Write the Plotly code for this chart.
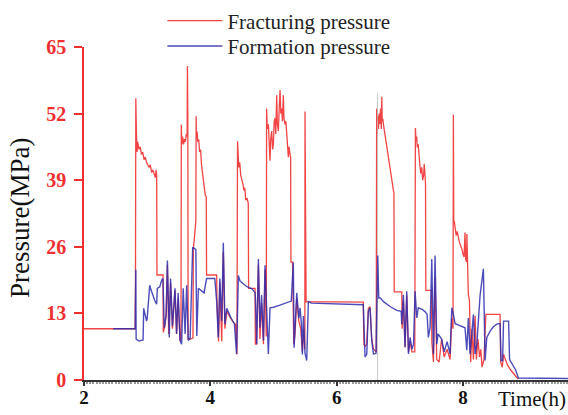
import plotly.graph_objects as go

# Fracturing (treating) pressure record, MPa vs hours
frac_time = [
    2.00, 2.81, 2.815, 2.82, 2.825, 2.83, 2.84, 2.85, 2.87, 2.89, 2.91, 2.93, 2.95, 2.97, 2.99,
    3.01, 3.03, 3.05, 3.07, 3.09, 3.11, 3.13, 3.14, 3.15, 3.155, 3.25, 3.255, 3.28, 3.30, 3.32,
    3.34, 3.37, 3.40, 3.44, 3.465, 3.49, 3.52, 3.535, 3.54, 3.548, 3.56, 3.575, 3.59, 3.605, 3.62,
    3.632, 3.637, 3.643, 3.648, 3.68, 3.725, 3.73, 3.745, 3.76, 3.77, 3.775, 3.78, 3.79, 3.80, 3.815,
    3.83, 3.845, 3.86, 3.875, 3.89, 3.905, 3.92, 3.935, 3.94, 4.10, 4.105, 4.13, 4.15, 4.18, 4.205,
    4.23, 4.26, 4.30, 4.35, 4.40, 4.42, 4.43, 4.44, 4.45, 4.465, 4.48, 4.50, 4.515, 4.53, 4.545,
    4.56, 4.58, 4.60, 4.605, 4.707, 4.712, 4.73, 4.76, 4.785, 4.81, 4.84, 4.865, 4.885, 4.89, 4.90,
    4.918, 4.93, 4.944, 4.955, 4.97, 4.985, 4.997, 5.01, 5.023, 5.035, 5.05, 5.06, 5.076, 5.09, 5.103,
    5.115, 5.13, 5.14, 5.155, 5.165, 5.18, 5.195, 5.21, 5.22, 5.234, 5.245, 5.26, 5.27, 5.275, 5.30,
    5.32, 5.34, 5.367, 5.40, 5.43, 5.456, 5.48, 5.495, 5.498, 5.502, 5.506, 5.51, 5.515, 6.42, 6.43,
    6.448, 6.475, 6.50, 6.527, 6.554, 6.58, 6.625, 6.632, 6.64, 6.65, 6.66, 6.67, 6.68, 6.695, 6.705,
    6.713, 6.72, 6.73, 6.74, 6.755, 6.77, 6.79, 6.805, 6.82, 6.835, 6.844, 6.86, 6.875, 6.89, 6.897,
    6.905, 6.91, 7.03, 7.035, 7.055, 7.081, 7.108, 7.135, 7.161, 7.19, 7.235, 7.245, 7.255, 7.265, 7.275,
    7.29, 7.30, 7.315, 7.33, 7.345, 7.36, 7.375, 7.385, 7.395, 7.405, 7.41, 7.50, 7.505, 7.53, 7.556,
    7.583, 7.62, 7.66, 7.70, 7.746, 7.794, 7.82, 7.84, 7.846, 7.852, 7.86, 7.873, 7.89, 7.905, 7.925,
    7.94, 7.96, 7.98, 8.00, 8.015, 8.03, 8.04, 8.055, 8.06, 8.07, 8.083, 8.10, 8.12, 8.14, 8.163,
    8.19, 8.21, 8.235, 8.26, 8.28, 8.30, 8.33, 8.36, 8.585, 8.595, 8.62, 8.64, 8.70, 8.75, 8.85,
    8.875,
]
frac_pressure = [
    10.0, 10.0, 20.0, 55.0, 45.0, 48.0, 44.5, 46.5, 45.0, 45.5, 44.0, 44.5, 43.0, 43.5, 42.5,
    42.0, 41.5, 42.0, 40.5, 41.0, 40.0, 39.5, 41.0, 40.0, 20.5, 20.5, 9.3, 10.5, 13.0, 22.5,
    9.0, 19.0, 10.0, 17.5, 9.0, 16.0, 7.7, 8.0, 49.8, 46.0, 47.5, 46.0, 47.0, 46.5, 48.0,
    47.5, 61.3, 52.0, 8.0, 8.0, 8.2, 25.5, 27.5, 30.5, 31.0, 51.5, 47.0, 48.5, 46.5, 47.0,
    44.5, 45.0, 42.0, 40.5, 40.0, 37.5, 36.0, 35.8, 20.5, 20.5, 15.0, 7.5, 19.0, 7.5, 25.0,
    10.0, 13.5, 12.5, 11.5, 10.8, 5.0, 46.6, 43.0, 41.5, 42.5, 40.0, 39.0, 38.3, 37.0, 37.5,
    35.1, 35.5, 34.5, 17.9, 17.9, 7.0, 7.0, 22.5, 8.0, 15.0, 7.0, 21.5, 8.5, 53.0, 49.0,
    49.9, 46.0, 42.8, 47.0, 48.6, 45.0, 46.0, 50.5, 51.1, 48.0, 55.6, 50.0, 48.6, 53.0, 56.6,
    52.0, 53.0, 50.5, 55.6, 51.0, 49.9, 50.5, 48.6, 46.0, 43.5, 45.5, 44.1, 43.5, 23.0, 23.0,
    7.0, 9.0, 16.0, 11.5, 10.0, 5.5, 10.0, 6.0, 52.4, 25.0, 35.0, 23.0, 15.3, 15.2, 7.0,
    6.5, 7.0, 14.0, 14.3, 8.0, 6.0, 5.5, 53.0, 48.0, 51.5, 49.0, 52.0, 50.0, 53.0, 49.0,
    55.3, 50.5, 51.0, 49.8, 48.5, 47.5, 45.4, 44.5, 42.8, 42.0, 40.9, 39.8, 39.0, 37.5, 37.0,
    36.5, 17.2, 17.2, 10.0, 15.5, 6.4, 16.5, 5.5, 7.5, 5.5, 5.5, 49.2, 46.6, 47.5, 45.4,
    46.0, 43.5, 42.0, 40.3, 41.5, 39.0, 40.0, 42.2, 39.6, 38.3, 17.5, 17.5, 7.5, 3.5, 20.0,
    4.0, 3.5, 8.0, 4.5, 6.0, 4.0, 12.0, 10.0, 51.8, 30.7, 31.0, 29.5, 28.2, 29.0, 27.5,
    27.0, 26.2, 25.6, 24.5, 24.0, 28.8, 23.6, 23.0, 28.5, 23.0, 16.7, 15.5, 3.5, 10.0, 4.0,
    12.5, 4.0, 8.0, 4.5, 6.0, 2.5, 4.0, 12.8, 12.8, 3.5, 2.5, 5.0, 3.0, 2.0, 0.5,
    0.2,
]

# Formation pressure record, MPa vs hours
form_time = [
    2.46, 2.81, 2.82, 2.825, 2.87, 2.935, 2.945, 2.97, 2.99, 3.00, 3.04, 3.06, 3.09, 3.12, 3.15,
    3.16, 3.20, 3.23, 3.25, 3.27, 3.30, 3.32, 3.35, 3.37, 3.40, 3.44, 3.465, 3.49, 3.52, 3.545,
    3.57, 3.60, 3.625, 3.65, 3.68, 3.72, 3.77, 3.785, 3.81, 3.85, 3.90, 3.94, 4.07, 4.10, 4.125,
    4.15, 4.18, 4.205, 4.23, 4.26, 4.29, 4.33, 4.38, 4.415, 4.443, 4.47, 4.52, 4.58, 4.62, 4.66,
    4.71, 4.734, 4.76, 4.785, 4.81, 4.84, 4.865, 4.89, 4.918, 4.944, 5.00, 5.10, 5.20, 5.28, 5.313,
    5.325, 5.34, 5.367, 5.40, 5.42, 5.44, 5.456, 5.472, 5.498, 5.525, 5.551, 5.60, 6.42, 6.448, 6.475,
    6.50, 6.527, 6.554, 6.58, 6.622, 6.649, 6.665, 6.69, 6.75, 6.85, 6.95, 7.02, 7.029, 7.055, 7.081,
    7.108, 7.135, 7.161, 7.19, 7.215, 7.24, 7.267, 7.29, 7.35, 7.40, 7.43, 7.45, 7.477, 7.504, 7.53,
    7.556, 7.583, 7.604, 7.66, 7.70, 7.746, 7.794, 7.821, 7.846, 7.873, 7.95, 8.03, 8.058, 8.083, 8.11,
    8.163, 8.19, 8.217, 8.269, 8.321, 8.348, 8.375, 8.43, 8.48, 8.53, 8.585, 8.60, 8.625, 8.64, 8.72,
    8.735, 8.78, 8.83, 8.875, 9.66,
]
form_pressure = [
    10.0, 10.0, 21.5, 8.0, 7.6, 7.8, 14.0, 12.5, 11.5, 12.0, 18.5, 17.6, 16.5, 15.5, 14.8,
    17.9, 18.2, 19.5, 19.8, 10.2, 12.5, 23.3, 8.3, 19.8, 10.5, 17.9, 9.0, 17.0, 7.7, 7.0,
    17.9, 9.0, 18.5, 7.7, 8.2, 25.9, 25.5, 8.6, 17.9, 17.5, 17.0, 19.8, 19.8, 15.3, 8.3,
    19.8, 11.5, 26.8, 10.9, 14.0, 13.0, 12.0, 11.0, 5.1, 20.4, 19.3, 18.8, 18.2, 18.0, 17.8,
    17.0, 7.0, 23.6, 10.2, 16.6, 7.7, 22.4, 14.1, 5.1, 14.1, 14.2, 14.6, 15.0, 15.4, 23.0,
    6.3, 10.2, 17.0, 12.0, 14.1, 11.0, 5.0, 12.5, 5.2, 3.8, 15.3, 15.0, 14.7, 4.5, 5.0,
    13.4, 14.1, 7.7, 5.1, 5.2, 24.3, 16.0, 16.0, 15.2, 14.3, 13.6, 13.4, 10.9, 16.6, 6.4,
    17.3, 5.1, 8.3, 6.0, 7.0, 17.3, 12.1, 14.1, 13.8, 13.3, 12.8, 8.3, 10.2, 23.6, 5.1,
    24.3, 7.0, 9.0, 8.0, 5.5, 7.5, 5.1, 14.1, 12.8, 11.0, 10.6, 10.2, 5.8, 12.1, 5.1,
    12.8, 5.1, 7.0, 16.6, 21.7, 3.8, 8.3, 9.6, 10.4, 10.9, 11.0, 3.8, 3.8, 11.5, 11.5,
    4.0, 3.0, 2.0, 0.4, 0.3,
]

# faint marker line at the start of the sixth stage
marker_time = [6.645, 6.645]
marker_pressure = [0.0, 56.0]

pressure_ticks = [0, 13, 26, 39, 52, 65]
time_ticks = [2, 4, 6, 8]

SERIF = "Liberation Serif, Times New Roman, serif"
LEGEND_FONT = dict(family=SERIF, size=21, color="#222")

fig = go.Figure()
fig.add_trace(go.Scatter(
    x=frac_time, y=frac_pressure, mode="lines", name="Fracturing pressure",
    line=dict(color="rgba(238,36,36,0.85)", width=1.3), legend="legend",
))
fig.add_trace(go.Scatter(
    x=marker_time, y=marker_pressure, mode="lines", showlegend=False,
    line=dict(color="rgba(190,190,190,0.8)", width=1), hoverinfo="skip",
))
fig.add_trace(go.Scatter(
    x=form_time, y=form_pressure, mode="lines", name="Formation pressure",
    line=dict(color="rgba(45,45,175,0.85)", width=1.4), legend="legend2",
))

legend_common = dict(xanchor="left", yanchor="middle", font=LEGEND_FONT,
                     itemwidth=55, bgcolor="rgba(0,0,0,0)")

fig.update_layout(
    width=568, height=415,
    margin=dict(l=84, r=0, t=41, b=35),
    paper_bgcolor="white", plot_bgcolor="white",
    font=dict(family=SERIF, color="black"),
    legend=dict(x=0.162, y=1.078, **legend_common),
    legend2=dict(x=0.162, y=1.002, **legend_common),
    xaxis=dict(
        range=[2, 9.66], tickvals=time_ticks, showgrid=False, zeroline=False,
        showline=True, linecolor="#333", linewidth=1.5,
        ticks="outside", ticklen=4, tickwidth=1.5, tickcolor="#333",
        tickfont=dict(family=SERIF, size=19, color="#111", weight="bold"),
        ticklabelstandoff=-5,
        minor=dict(dtick=0.05, ticks="outside", ticklen=2, tickcolor="#999", showgrid=False),
    ),
    yaxis=dict(
        range=[0, 65], tickvals=pressure_ticks, showgrid=False, zeroline=False,
        showline=True, linecolor="#f03030", linewidth=1.5,
        ticks="outside", ticklen=8, tickwidth=1.5, tickcolor="#f03030",
        tickfont=dict(family=SERIF, size=20, color="#f03030", weight="bold"),
        ticklabelstandoff=4,
    ),
    annotations=[
        dict(text="Pressure(MPa)", textangle=-90, x=-0.132, y=0.487, xref="paper", yref="paper",
             xanchor="center", yanchor="middle",
             showarrow=False, font=dict(family=SERIF, size=27, color="#111")),
        dict(text="Time(h)", x=1.0, y=-0.058, xref="paper", yref="paper", xanchor="right",
             yanchor="middle", showarrow=False, font=dict(family=SERIF, size=21, color="#111")),
    ],
)

fig.write_html("out.html")
